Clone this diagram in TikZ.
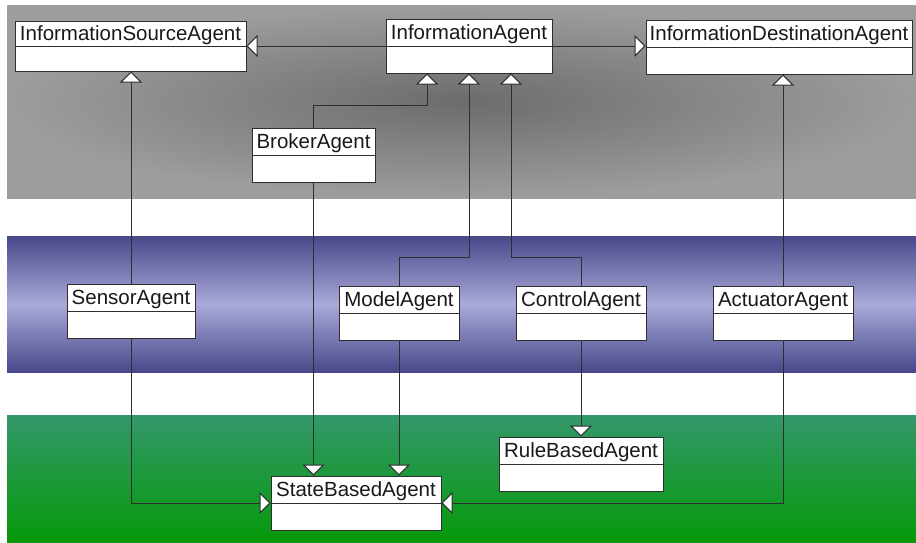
\documentclass[tikz,border=0pt]{standalone}
\usepackage{fontspec}
\setmainfont{Liberation Sans}
\usetikzlibrary{arrows.meta,calc}
\definecolor{bandgrayin}{HTML}{6C6C6C}
\definecolor{bandgrayout}{HTML}{9D9D9D}
\definecolor{bandbluedark}{HTML}{48488A}
\definecolor{bandbluelight}{HTML}{A9A9D9}
\definecolor{bandgreentop}{HTML}{33986A}
\definecolor{bandgreenbot}{HTML}{06990A}
\definecolor{linegray}{HTML}{2E2E2E}
\tikzset{
	classbox/.style={draw=linegray, line width=1pt, fill=white, inner xsep=0pt, inner ysep=0pt,
		text height=20.8pt, text depth=33.2pt, font=\fontsize{20.5}{24}\selectfont, text=black!90},
	genline/.style={draw=linegray, line width=1pt,
		-{Triangle[open, width=22pt, length=11pt, fill=white]}}
}
\begin{document}
\begin{tikzpicture}[x=1pt,y=-1pt]
	\useasboundingbox (0,0) rectangle (916,542);
	% layers
	\shade[inner color=bandgrayin, outer color=bandgrayout] (7,5) rectangle (916,198);
	\shade[top color=bandbluedark, bottom color=bandbluedark, middle color=bandbluelight] (7,236) rectangle (916,372);
	\shade[top color=bandgreentop, bottom color=bandgreenbot] (7,415) rectangle (916,542);
	% classes
	\node (isa) [classbox, minimum width=231pt, text height=19pt, text depth=31pt] at (130.5,46) {InformationSourceAgent};
	\node (ia) [classbox, minimum width=166pt] at (469,46) {InformationAgent};
	\node (ida) [classbox, minimum width=266pt] at (779,47) {InformationDestinationAgent};
	\node (broker) [classbox, minimum width=123pt] at (313.5,155) {BrokerAgent};
	\node (sensor) [classbox, minimum width=128pt] at (131,311) {SensorAgent};
	\node (model) [classbox, minimum width=120pt] at (399,313) {ModelAgent};
	\node (control) [classbox, minimum width=130pt] at (581,313) {ControlAgent};
	\node (actuator) [classbox, minimum width=140pt] at (783,313) {ActuatorAgent};
	\node (rule) [classbox, minimum width=164pt] at (581,464) {RuleBasedAgent};
	\node (state) [classbox, minimum width=170pt] at (356,503) {StateBasedAgent};
	\foreach \c in {isa,ia,ida,broker,sensor,model,control,actuator,rule,state}
		\draw[linegray, line width=1pt] (\c.west) -- (\c.east);
	% generalisations
	\draw[genline] (ia.west) -- (isa.east);
	\draw[genline] (ia.east) -- (ida.west |- ia.east);
	\draw[genline] (broker.north) -- ++(0,-22) -| ([xshift=-42pt]ia.south);
	\draw[genline] (model.north) -- ++(0,-28) -| (ia.south);
	\draw[genline] (control.north) -- ++(0,-28) -| ([xshift=42pt]ia.south);
	\draw[genline] (sensor.north) -- (sensor.north |- isa.south);
	\draw[genline] (actuator.north) -- (actuator.north |- ida.south);
	\draw[genline] (broker.south) -- (broker.south |- state.north);
	\draw[genline] (model.south) -- (model.south |- state.north);
	\draw[genline] (control.south) -- (rule.north);
	\draw[genline] (sensor.south) |- (state.west);
	\draw[genline] (actuator.south) |- (state.east);
\end{tikzpicture}
\end{document}
